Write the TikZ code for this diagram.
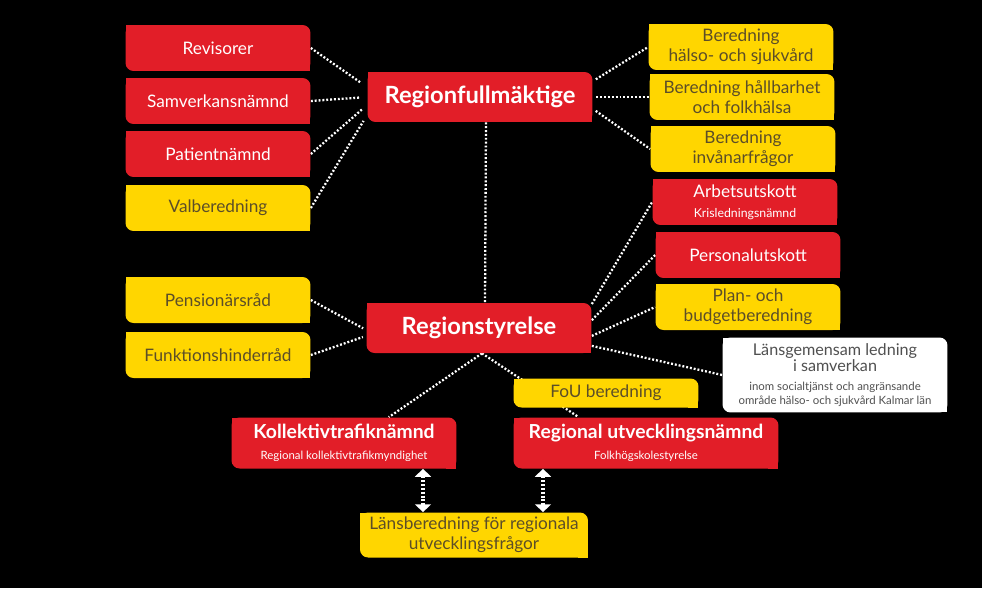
\documentclass[tikz,border=0pt]{standalone}
\usepackage{fontspec}
\setmainfont{Lato}
\usepackage{xcolor}
\usepackage{tikz}
\usetikzlibrary{arrows.meta, positioning, calc, backgrounds}

\definecolor{regred}{RGB}{226,30,40}
\definecolor{regyellow}{RGB}{255,214,0}
\definecolor{olivetext}{RGB}{92,78,40}
\definecolor{greytext}{RGB}{80,80,80}
\newcommand\smalltext{\fontsize{6.5}{7.5}\selectfont}

\pgfdeclarelayer{edges}
\pgfsetlayers{background,edges,main}

\begin{document}
\begin{tikzpicture}[
    x=0.02cm, y=-0.02cm,
    every node/.style={inner sep=1pt, align=center},
    leaf/.style={path picture={
        \fill[#1, rounded corners=0.16cm] (path picture bounding box.south west) rectangle (path picture bounding box.north east);
        \fill[#1] (path picture bounding box.north west) rectangle ++(0.2cm,-0.2cm);
        \fill[#1] (path picture bounding box.south east) rectangle ++(-0.2cm,0.2cm);}},
    redbox/.style={leaf=regred, text=white, minimum width=3.7cm, minimum height=0.92cm, font=\fontsize{9.8}{11.2}\selectfont},
    yellowbox/.style={leaf=regyellow, text=olivetext, minimum width=3.7cm, minimum height=0.92cm, font=\fontsize{9.8}{11.2}\selectfont},
    headbox/.style={leaf=regred, text=white, minimum width=4.5cm, minimum height=1cm, font=\bfseries\fontsize{13.5}{15}\selectfont},
    boardbox/.style={leaf=regred, text=white, minimum height=1.02cm, font=\bfseries\fontsize{11}{12}\selectfont},
    whitebox/.style={leaf=white, text=greytext, minimum width=4.5cm, minimum height=1.5cm, font=\fontsize{9.2}{9.6}\selectfont},
    link/.style={draw=white, line width=1.3pt, dash pattern=on 1.1pt off 1.1pt},
    twoway/.style={link, line width=2pt, {Triangle[width=9pt,length=4.5pt]}-{Triangle[width=9pt,length=4.5pt]}}
  ]

  \begin{scope}[on background layer]
    \fill[black] (0,0) rectangle (982,588);
  \end{scope}
  \useasboundingbox (0,0) rectangle (982,588);

  % Top: Regionfullmäktige and its bodies
  \node[headbox] (rf) at (480,97) {Regionfullmäktige};
  \node[redbox] (revis) at (218,48) {Revisorer};
  \node[redbox] (samv) at (218,101) {Samverkansnämnd};
  \node[redbox] (pat) at (218,154) {Patientnämnd};
  \node[yellowbox] (valb) at (218,208) {Valberedning};
  \node[yellowbox] (bhs) at (741,47) {Beredning\\hälso- och sjukvård};
  \node[yellowbox] (bhf) at (742,97) {Beredning hållbarhet\\och folkhälsa};
  \node[yellowbox] (binv) at (743,149) {Beredning\\invånarfrågor};

  % Middle: Regionstyrelse and its bodies
  \node[headbox] (rs) at (479,328) {Regionstyrelse};
  \node[redbox] (arb) at (745,202) {Arbetsutskott\\{\fontsize{7}{8}\selectfont Krisledningsnämnd}};
  \node[redbox] (pers) at (748,255) {Personalutskott};
  \node[yellowbox] (plan) at (748,307) {Plan- och\\budgetberedning};
  \node[whitebox] (lgs) at (835,375) {Länsgemensam ledning\\i samverkan\\[1pt]{\smalltext inom socialtjänst och angränsande}\\[-1.5pt]{\smalltext område hälso- och sjukvård Kalmar län}};
  \node[yellowbox] (pens) at (218,300) {Pensionärsråd};
  \node[yellowbox] (funk) at (218,355) {Funktionshinderråd};

  % Bottom: nämnder
  \node[yellowbox, minimum height=0.58cm] (fou) at (606,393) {FoU beredning};
  \node[boardbox, minimum width=4.5cm] (kt) at (344,443) {Kollektivtrafiknämnd\\{\mdseries\smalltext Regional kollektivtrafikmyndighet}};
  \node[boardbox, minimum width=5.3cm] (ru) at (646,443) {Regional utvecklingsnämnd\\{\mdseries\smalltext Folkhögskolestyrelse}};
  \node[yellowbox, minimum width=4.56cm, minimum height=0.9cm] (lb) at (474,535) {Länsberedning för regionala\\utvecklingsfrågor};

  % Connectors
  \begin{pgfonlayer}{edges}
    \draw[link, shorten >=4pt] (revis.east) -- (rf.175);
    \draw[link, shorten >=4pt] (samv.east) -- (rf.180);
    \draw[link, shorten >=4pt] (pat.east) -- (rf.184);
    \draw[link, shorten >=4pt] (valb.east) -- (rf.189);
    \draw[link, shorten <=2pt] (rf.8) -- (bhs.west);
    \draw[link, shorten <=2pt] (rf.0) -- (bhf.west);
    \draw[link, shorten <=2pt] (rf.354) -- (binv.west);
    \draw[link] ([shift={(6,0)}]rf.south) -- ([shift={(6,0)}]rs.north);
    \draw[link] (rs.12) -- (arb.west);
    \draw[link] (rs.4) -- (pers.west);
    \draw[link] (rs.356) -- (plan.west);
    \draw[link] (rs.351) -- (lgs.west);
    \draw[link, shorten >=2pt] (pens.east) -- (rs.181);
    \draw[link, shorten >=2pt] (funk.east) -- (rs.184);
    \draw[link] ([shift={(3,0)}]rs.south) -- (kt.30);
    \draw[link] ([shift={(3,0)}]rs.south) -- (ru.159);
    \draw[twoway] ([shift={(79,0)}]kt.south) -- ([shift={(79,0)}]kt.south |- lb.north);
    \draw[twoway] ([shift={(-103,0)}]ru.south) -- ([shift={(-103,0)}]ru.south |- lb.north);
  \end{pgfonlayer}

\end{tikzpicture}
\end{document}
